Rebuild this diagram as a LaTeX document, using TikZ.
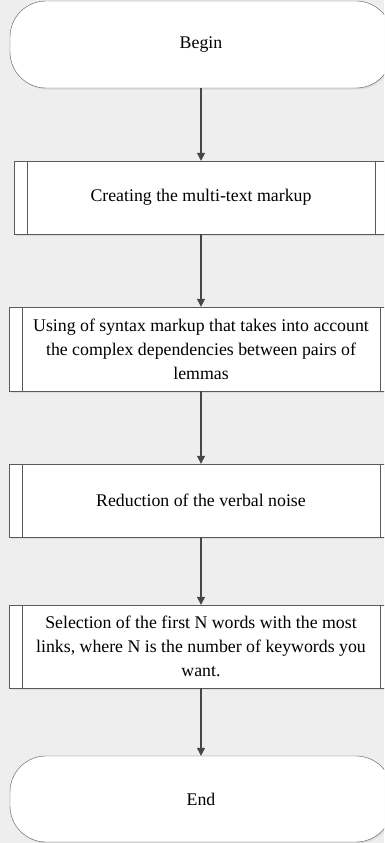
\documentclass[tikz,border=0pt]{standalone}
\usepackage{fontspec}
\setmainfont{Liberation Serif}
\usetikzlibrary{arrows.meta, calc, shadows}

\definecolor{bgcol}{RGB}{238,238,238}
\definecolor{linecol}{RGB}{90,90,90}
\definecolor{arrowcol}{RGB}{70,70,70}

\begin{document}
\begin{tikzpicture}[x=1pt, y=-1pt,
    terminal/.style={draw=linecol, fill=white, rounded corners=36pt, minimum width=382pt,
        inner sep=0pt, font=\fontsize{17.8}{24}\selectfont,
        drop shadow={shadow xshift=1.5pt, shadow yshift=-1.5pt, fill=black!18, opacity=0.6}},
    process/.style={draw=linecol, fill=white, minimum width=383pt, inner sep=0pt,
        align=center, font=\fontsize{17.8}{24}\selectfont,
        drop shadow={shadow xshift=1.5pt, shadow yshift=-1.5pt, fill=black!18, opacity=0.6}},
    flow/.style={draw=arrowcol, line width=1.2pt, -{Triangle[length=8pt,width=8pt]}}]

    % Page and background
    \fill[bgcol] (0,0) rectangle (384,843);
    \useasboundingbox (0,0) rectangle (384,843);
    \clip (0,0) rectangle (384,843);

    % --- Start and end ---
    \node[terminal, minimum height=87pt] (begin) at (201,44.5) {Begin};
    \node[terminal, minimum height=86pt] (end) at (201,799) {End};

    % --- Process steps ---
    \node[process, minimum width=374pt, minimum height=73pt] (creating) at (201,197.5)
        {Creating the multi-text markup};
    \node[process, minimum height=84pt] (syntax) at (201,349)
        {Using of syntax markup that takes into account\\
         the complex dependencies between pairs of\\
         lemmas};
    \node[process, minimum height=73pt] (noise) at (201,500.5)
        {Reduction of the verbal noise};
    \node[process, minimum height=83pt] (select) at (201,646.5)
        {Selection of the first N words with the most\\
         links, where N is the number of keywords you\\
         want.};

    % Side bars of the predefined-process boxes
    \foreach \b in {creating, syntax, noise, select} {
        \draw[linecol] ($(\b.north west)+(13,0)$) -- ($(\b.south west)+(13,0)$);
        \draw[linecol] ($(\b.north east)+(-13,0)$) -- ($(\b.south east)+(-13,0)$);
    }

    % --- Connectors ---
    \draw[flow] (begin.south) -- (creating.north);
    \draw[flow] (creating.south) -- (syntax.north);
    \draw[flow] (syntax.south) -- (noise.north);
    \draw[flow] (noise.south) -- (select.north);
    \draw[flow] (select.south) -- (end.north);

\end{tikzpicture}
\end{document}
